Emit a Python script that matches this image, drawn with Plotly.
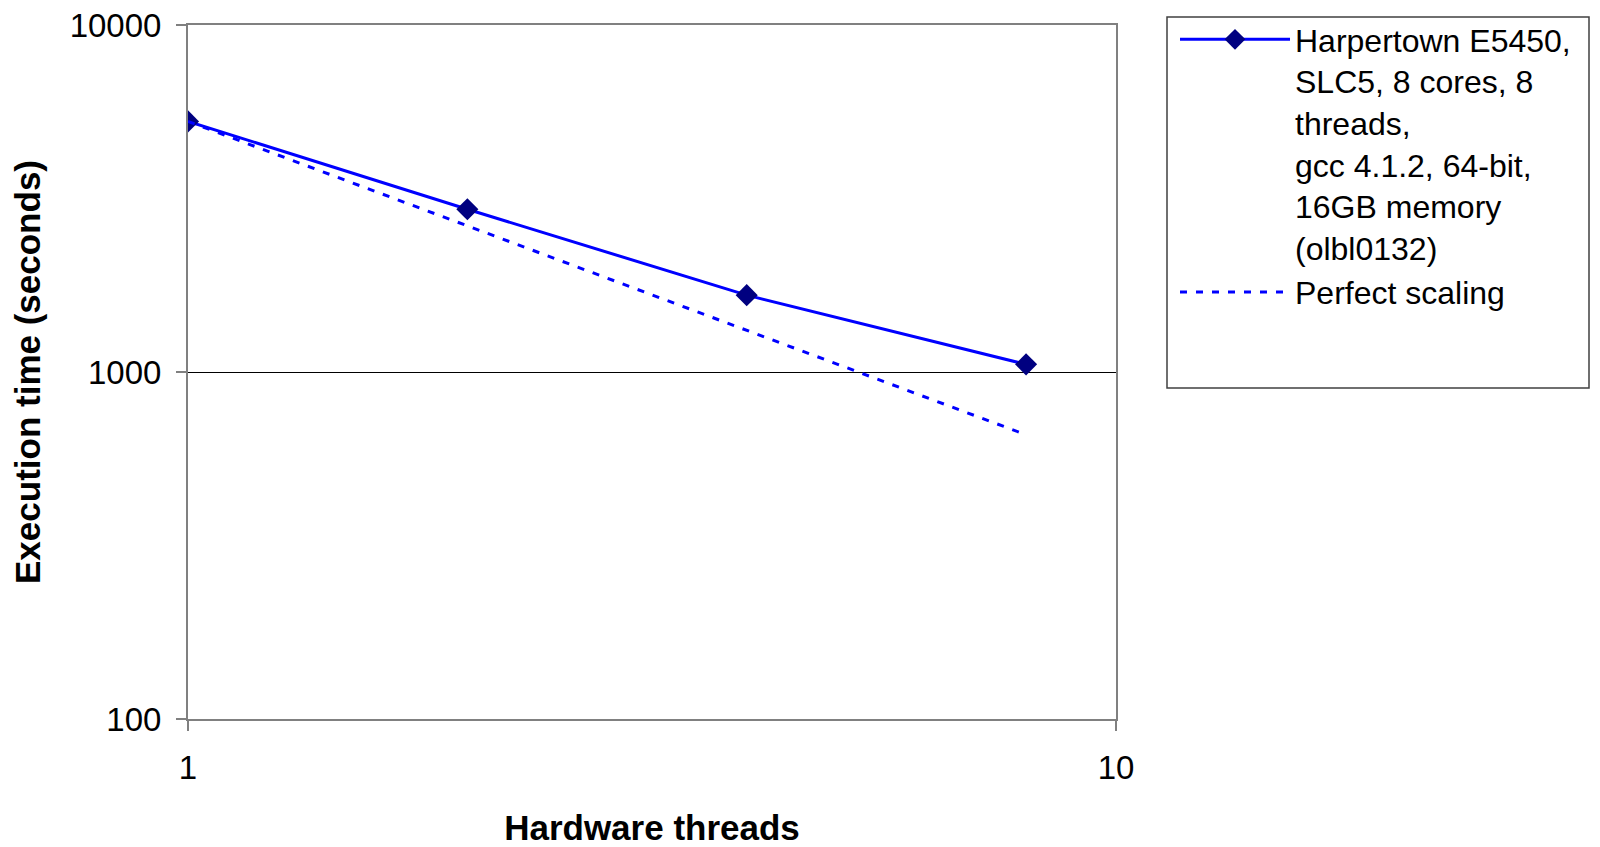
import plotly.graph_objects as go

threads = [1, 2, 4, 8]
exec_time = [5275, 2945, 1665, 1052]
perfect_scaling = [5275, 2637.5, 1318.75, 659.4]

series_names = [
    "Harpertown E5450,<br>SLC5, 8 cores, 8<br>threads,<br>gcc 4.1.2, 64-bit,<br>16GB memory<br>(olbl0132)",
    "Perfect scaling",
]
y_ticks = [100, 1000, 10000]
x_ticks = [1, 10]

FONT = "Liberation Sans, Arial, sans-serif"
OFF = 8  # page body margin

W, H = 1600 - OFF, 847 - OFF
# plot area in screen pixels: x 188..1116, y 25..719
L = 188 - OFF
T = 25 - OFF
pw, ph = 1116 - 188, 719 - 25
R = W - L - pw
B = H - T - ph

def px(sx):
    return (sx - OFF - L) / pw

def py(sy):
    return (T + ph - (sy - OFF)) / ph

fig = go.Figure()
fig.add_trace(go.Scatter(
    x=threads, y=exec_time, name=series_names[0], mode="lines+markers",
    line=dict(color="#0000FF", width=3),
    marker=dict(symbol="diamond", size=17, color="#000080", line=dict(width=0)),
))
fig.add_trace(go.Scatter(
    x=threads, y=perfect_scaling, name=series_names[1], mode="lines",
    line=dict(color="#0000FF", width=3, dash="7px,9px"),
))

fig.add_shape(type="rect", xref="paper", yref="paper",
              x0=px(1167), x1=px(1589), y0=py(388), y1=py(17),
              line=dict(color="#404040", width=1.5), fillcolor="rgba(0,0,0,0)")

fig.update_layout(
    width=W, height=H,
    margin=dict(l=L, r=R, t=T, b=B, autoexpand=False),
    plot_bgcolor="white", paper_bgcolor="white",
    font=dict(family=FONT, size=32, color="black"),
    showlegend=True,
    legend=dict(
        x=px(1175), y=py(12), xanchor="left", yanchor="top",
        bgcolor="rgba(0,0,0,0)", borderwidth=0,
        font=dict(family=FONT, size=32, color="black"),
        valign="top", itemwidth=110, tracegroupgap=0,
    ),
    xaxis=dict(
        type="log", range=[0, 1], tickvals=x_ticks, ticktext=[str(v) for v in x_ticks],
        showgrid=False, zeroline=False, automargin=False,
        showline=True, linecolor="#808080", linewidth=2, mirror=True,
        ticks="outside", ticklen=10, tickcolor="#808080", tickwidth=1.5,
        ticklabelstandoff=8, ticklabeloverflow="allow",
        tickfont=dict(family=FONT, size=33, color="black"),
        title=dict(text="<b>Hardware threads</b>", font=dict(family=FONT, size=35, color="black"), standoff=46),
    ),
    yaxis=dict(
        type="log", range=[2, 4], tickvals=y_ticks, ticktext=[str(v) for v in y_ticks],
        showgrid=True, gridcolor="black", gridwidth=1, zeroline=False, automargin=False,
        showline=True, linecolor="#808080", linewidth=2, mirror=True,
        ticks="outside", ticklen=10, tickcolor="#808080", tickwidth=1.5,
        ticklabelstandoff=8, ticklabeloverflow="allow",
        tickfont=dict(family=FONT, size=33, color="black"),
        title=dict(text="<b>Execution time (seconds)</b>", font=dict(family=FONT, size=35, color="black"), standoff=33),
    ),
)

fig.write_html("out.html")
